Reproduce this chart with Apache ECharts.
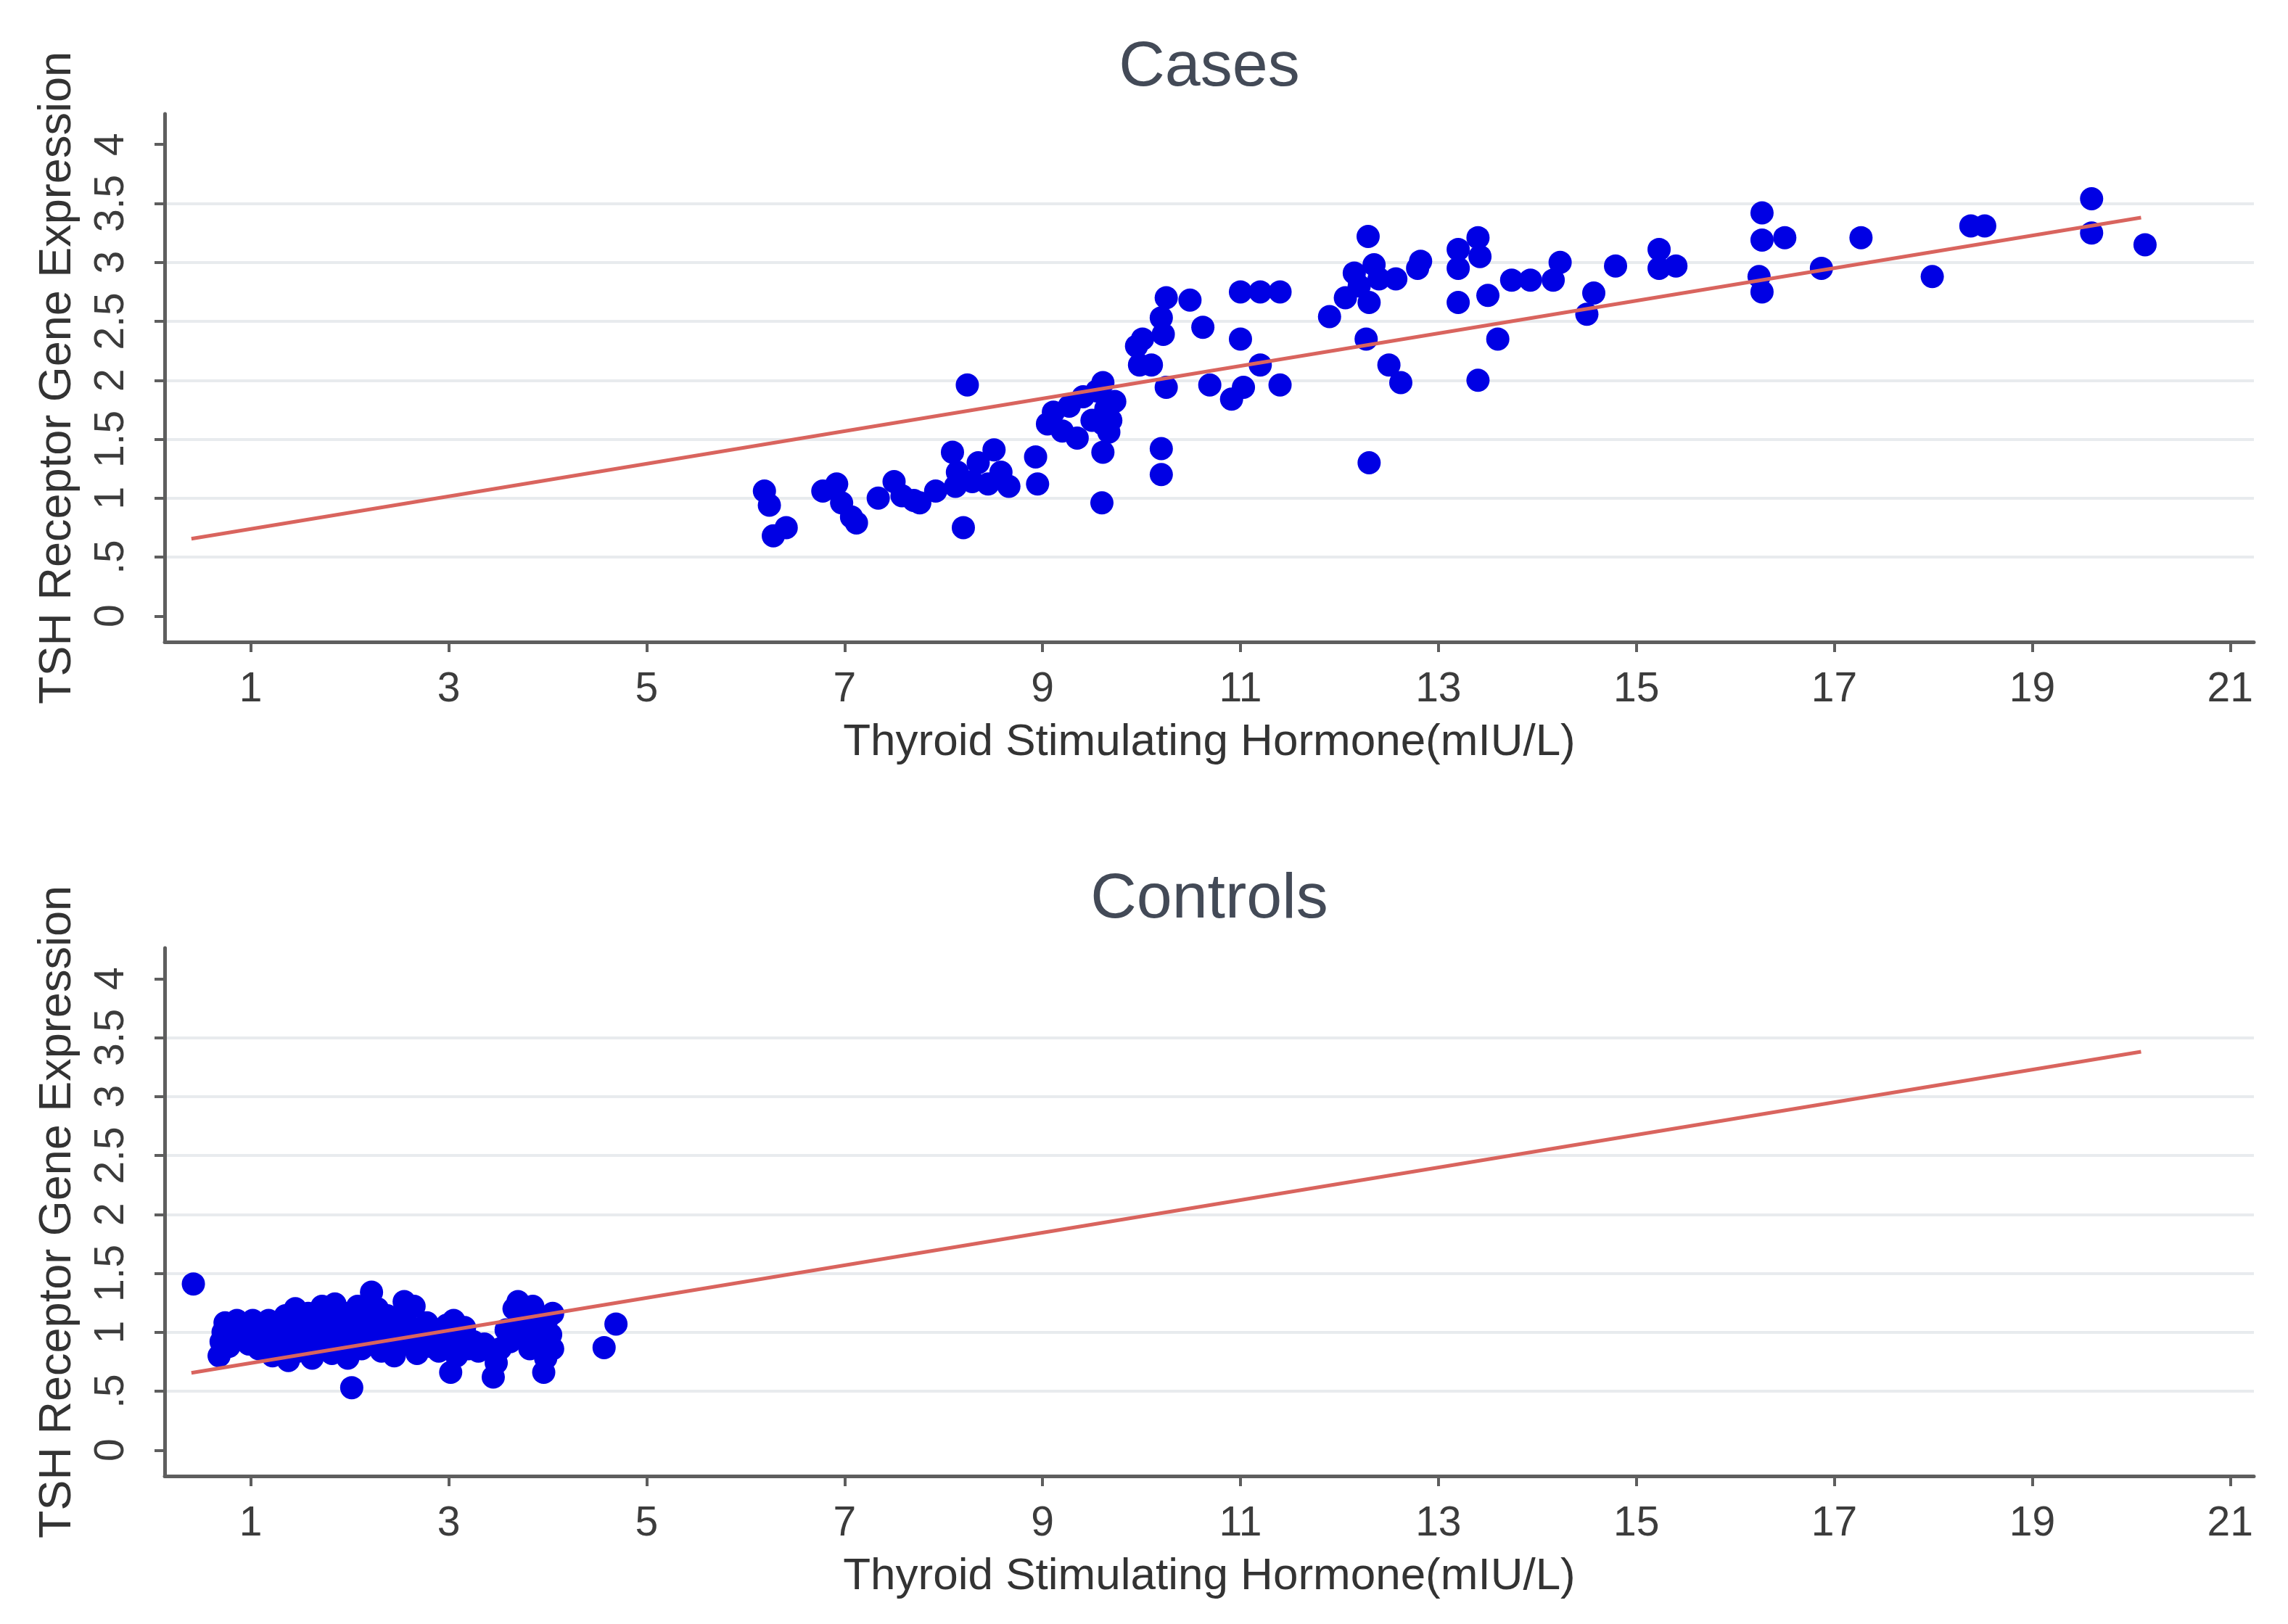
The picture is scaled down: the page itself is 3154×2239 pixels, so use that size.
<!DOCTYPE html>
<html>
<head>
<meta charset="utf-8">
<title>TSH receptor gene expression</title>
<script src="https://cdn.jsdelivr.net/npm/echarts@6/dist/echarts.min.js"></script>
<style>
  html, body { margin: 0; padding: 0; background: #fff; }
  #chart { width: 3154px; height: 2239px; }
</style>
</head>
<body>
<div id="chart"></div>
<script>
// values
var casesTSH = [6.19, 6.24, 6.28, 6.41, 6.78, 6.92, 6.97, 7.07, 7.12, 7.34, 7.50, 7.58, 7.70, 7.76, 7.92,
  8.09, 8.14, 8.12, 8.24, 8.20, 8.29, 8.35, 8.45, 8.51, 8.58, 8.66, 8.93, 8.95,
  9.05, 9.11, 9.20, 9.27, 9.35, 9.41, 9.50, 9.55, 9.61, 9.64, 9.67, 9.61, 9.73, 9.69, 9.60, 9.61,
  9.95, 9.98, 10.01, 10.10, 10.20, 10.22, 10.25, 10.25, 10.49, 10.62, 10.20, 10.20,
  10.69, 10.91, 11.03, 11.00, 11.20, 11.40, 11.00, 11.20, 11.40,
  11.90, 12.06, 12.15, 12.20, 12.30, 12.35, 12.40, 12.57, 12.79, 12.82, 12.27, 12.50, 12.62, 12.29, 12.30,
  13.20, 13.20, 13.20, 13.40, 13.42, 13.50, 13.74, 13.93, 14.16, 14.23, 13.60, 13.40,
  14.50, 14.57, 14.79, 15.23, 15.23, 15.40,
  16.24, 16.27, 16.27, 16.27, 16.50, 16.87, 17.27, 17.99, 18.38, 18.52, 19.60, 19.60, 20.14];
var casesExpr = [1.06, 0.94, 0.68, 0.75, 1.06, 1.12, 0.96, 0.84, 0.79, 1.00, 1.14, 1.02, 0.98, 0.96, 1.06,
  1.39, 1.22, 1.10, 1.96, 0.75, 1.14, 1.30, 1.12, 1.41, 1.22, 1.10, 1.35, 1.12,
  1.63, 1.73, 1.57, 1.78, 1.51, 1.86, 1.66, 1.91, 1.98, 1.76, 1.56, 1.39, 1.82, 1.66, 0.96, 1.63,
  2.29, 2.13, 2.35, 2.13, 2.53, 2.39, 2.70, 1.94, 2.68, 2.45, 1.42, 1.20,
  1.96, 1.84, 1.94, 2.75, 2.75, 2.75, 2.35, 2.13, 1.96,
  2.54, 2.70, 2.91, 2.80, 2.66, 2.98, 2.86, 2.86, 2.95, 3.01, 2.35, 2.13, 1.98, 3.22, 1.30,
  3.11, 2.95, 2.66, 3.21, 3.05, 2.72, 2.85, 2.85, 2.85, 3.00, 2.35, 2.00,
  2.56, 2.74, 2.97, 3.11, 2.95, 2.97,
  2.88, 3.42, 3.19, 2.75, 3.21, 2.95, 3.21, 2.88, 3.31, 3.31, 3.54, 3.25, 3.15];

var controlsTSH = [0.42, 2.02, 4.57, 4.69,
  0.68, 0.70, 0.72, 0.74, 0.78, 0.82, 0.86, 0.90, 0.95, 0.98,
  1.02, 1.05, 1.08, 1.12, 1.15, 1.18, 1.22, 1.25, 1.28, 1.32, 1.35, 1.38,
  1.42, 1.45, 1.48, 1.52, 1.55, 1.58, 1.62, 1.65, 1.68, 1.72, 1.75, 1.78,
  1.82, 1.85, 1.88, 1.92, 1.95, 1.98, 2.02, 2.05, 2.08, 2.12, 2.15, 2.18,
  2.22, 2.24, 2.28, 2.32, 2.35, 2.38, 2.42, 2.45, 2.50, 2.55, 2.58,
  2.62, 2.65, 2.68, 2.72, 2.78, 2.82, 2.86, 2.90, 2.95, 2.98,
  3.02, 3.05, 3.08, 3.12, 3.16, 3.20, 3.25, 3.30, 3.36,
  3.45, 3.48, 3.52, 3.58, 3.62, 3.66, 3.70, 3.72, 3.75, 3.78,
  3.82, 3.85, 3.88, 3.92, 3.96, 3.98, 4.00, 4.03, 4.05, 4.05];
var controlsExpr = [1.41, 0.53, 0.87, 1.07,
  0.80, 0.92, 1.00, 1.08, 0.88, 1.04, 1.10, 0.96, 1.06, 0.90,
  1.10, 0.98, 0.86, 1.04, 0.92, 1.10, 0.80, 0.98, 1.06, 0.88, 1.14, 0.76,
  1.00, 1.20, 0.84, 1.08, 0.94, 1.16, 0.78, 1.02, 0.88, 1.22, 1.10, 0.96,
  0.82, 1.24, 1.04, 0.90, 1.16, 0.78, 1.08, 0.96, 1.22, 0.86, 1.12, 1.02,
  1.34, 0.92, 1.20, 0.84, 1.06, 1.14, 0.96, 0.80, 1.10, 1.26, 0.90,
  1.04, 1.22, 0.82, 0.96, 1.08, 0.88, 1.00, 0.84, 0.94, 1.06,
  0.66, 1.10, 0.80, 0.96, 1.04, 0.86, 0.92, 0.84, 0.90,
  0.62, 0.74, 0.86, 1.02, 0.92, 1.20, 1.26, 1.08, 0.98, 1.16,
  0.86, 1.22, 1.04, 0.94, 0.66, 0.78, 1.12, 0.98, 1.16, 0.86];

// fitted line end points (same line in both panels)
var fitTSH = [0.40, 20.10];
var fitExpr = [0.655, 3.38];

var xTicks = [1, 3, 5, 7, 9, 11, 13, 15, 17, 19, 21];
var yTicks = [0, 0.5, 1, 1.5, 2, 2.5, 3, 3.5, 4];
var panelTitles = ['Cases', 'Controls'];

var FONT = 'Liberation Sans, Arial, Helvetica, sans-serif';
var axisColor = '#5e5e5e';
var gridColor = '#e8ebee';

function pairs(xs, ys) {
  var out = [];
  for (var i = 0; i < xs.length; i++) out.push([xs[i], ys[i]]);
  return out;
}

// no grid line at 0 and 4, only in between
var splitColors = yTicks.map(function (v, i) {
  return (i === 0 || i === yTicks.length - 1) ? 'rgba(0,0,0,0)' : gridColor;
});

function makeX(idx) {
  return {
    gridIndex: idx, type: 'value', min: 0.13, max: 21.24,
    name: 'Thyroid Stimulating Hormone(mIU/L)', nameLocation: 'middle', nameGap: 108,
    nameTextStyle: { fontSize: 62, color: '#333', fontFamily: FONT },
    axisLine: { show: true, onZero: false, lineStyle: { color: axisColor, width: 5 } },
    axisTick: { show: true, customValues: xTicks, length: 14, lineStyle: { color: axisColor, width: 4 } },
    axisLabel: { customValues: xTicks, fontSize: 57, color: '#3c3c3c', fontFamily: FONT, margin: 38 },
    splitLine: { show: false }
  };
}

function makeY(idx) {
  return {
    gridIndex: idx, type: 'value', min: -0.22, max: 4.26,
    name: 'TSH Receptor Gene Expression', nameLocation: 'middle', nameGap: 116,
    nameTextStyle: { fontSize: 63, color: '#333', fontFamily: FONT },
    axisLine: { show: true, onZero: false, lineStyle: { color: axisColor, width: 5 } },
    axisTick: { show: true, customValues: yTicks, length: 14, lineStyle: { color: axisColor, width: 4 } },
    axisLabel: {
      customValues: yTicks, rotate: 90, fontSize: 57, color: '#3c3c3c', fontFamily: FONT, margin: 44,
      formatter: function (v) { return String(v).replace(/^0\./, '.'); }
    },
    splitLine: { show: true, lineStyle: { color: splitColors, width: 4 } }
  };
}

function pointSeries(idx, xs, ys) {
  return {
    type: 'scatter', xAxisIndex: idx, yAxisIndex: idx, data: pairs(xs, ys), z: 3,
    symbol: 'circle', symbolSize: 32, itemStyle: { color: '#0000e4', opacity: 1 }
  };
}

function fitSeries(idx) {
  return {
    type: 'line', xAxisIndex: idx, yAxisIndex: idx, data: pairs(fitTSH, fitExpr), z: 4,
    symbol: 'none', lineStyle: { color: '#d9645e', width: 5 }
  };
}

var chart = echarts.init(document.getElementById('chart'));
chart.setOption({
  animation: false,
  backgroundColor: '#fff',
  grid: [
    { left: 227, top: 157, width: 2880, height: 728 },
    { left: 227, top: 1307, width: 2880, height: 728 }
  ],
  xAxis: [makeX(0), makeX(1)],
  yAxis: [makeY(0), makeY(1)],
  graphic: [
    { type: 'text', x: 1667, y: 94, style: { text: panelTitles[0], fontSize: 88, fontFamily: FONT, fill: '#434a57', align: 'center', verticalAlign: 'middle', textAlign: 'center', textVerticalAlign: 'middle' } },
    { type: 'text', x: 1667, y: 1241, style: { text: panelTitles[1], fontSize: 88, fontFamily: FONT, fill: '#434a57', align: 'center', verticalAlign: 'middle', textAlign: 'center', textVerticalAlign: 'middle' } }
  ],
  series: [
    pointSeries(0, casesTSH, casesExpr), fitSeries(0),
    pointSeries(1, controlsTSH, controlsExpr), fitSeries(1)
  ]
});
</script>
</body>
</html>
